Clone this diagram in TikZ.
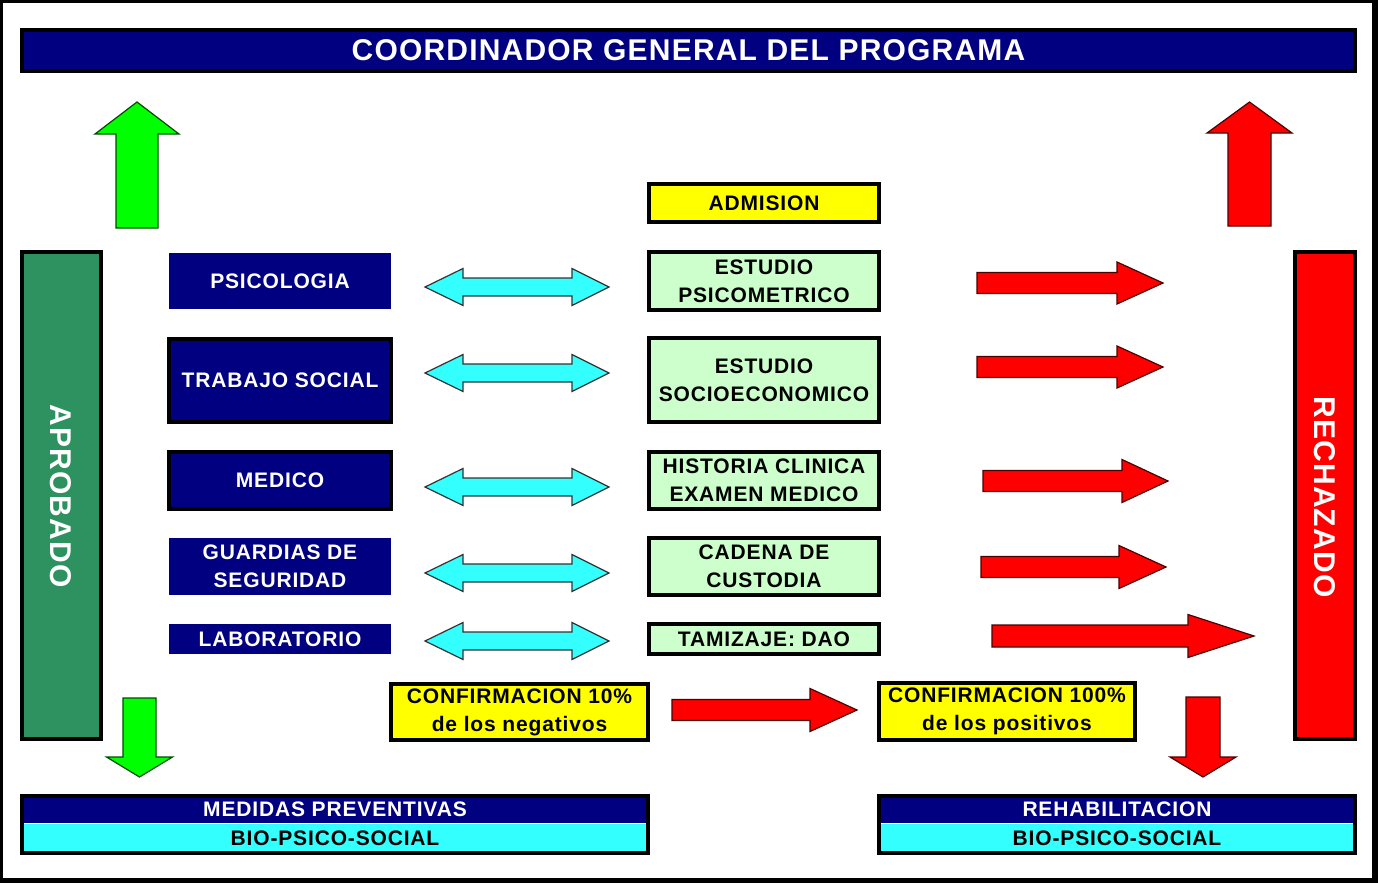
\documentclass[tikz,border=0pt]{standalone}
\usepackage{fontspec}
\setmainfont[LetterSpace=4]{Liberation Sans}
\definecolor{navyc}{RGB}{0,0,128}
\definecolor{seag}{RGB}{46,145,96}
\definecolor{redc}{RGB}{255,0,0}
\definecolor{greenc}{RGB}{0,255,0}
\definecolor{cyanc}{RGB}{51,255,255}
\definecolor{yellowc}{RGB}{255,255,0}
\definecolor{lgreen}{RGB}{204,255,204}
% horizontal block arrow: x-start, x-tip, y-centre, x-headbase, half head, half shaft, style
\newcommand\harw[7]{\draw[#7] (#1,#3-#6) -- (#4,#3-#6) -- (#4,#3-#5) -- (#2,#3) -- (#4,#3+#5) -- (#4,#3+#6) -- (#1,#3+#6) -- cycle;}
% double horizontal block arrow: x-left tip, x-right tip, y, left headbase, right headbase, half head, half shaft, style
\newcommand\dharw[8]{\draw[#8] (#1,#3) -- (#4,#3-#6) -- (#4,#3-#7) -- (#5,#3-#7) -- (#5,#3-#6) -- (#2,#3) -- (#5,#3+#6) -- (#5,#3+#7) -- (#4,#3+#7) -- (#4,#3+#6) -- cycle;}
% vertical block arrow: x-centre, y-tip, y-headbase, y-tail, half head, half shaft, style
\newcommand\varw[7]{\draw[#7] (#1,#2) -- (#1+#5,#3) -- (#1+#6,#3) -- (#1+#6,#4) -- (#1-#6,#4) -- (#1-#6,#3) -- (#1-#5,#3) -- cycle;}
\begin{document}
\begin{tikzpicture}[x=1pt,y=-1pt,
  bfont/.style={font=\fontsize{21}{28}\selectfont\bfseries},
  bordered/.style={draw=black, line width=4pt, inner sep=0pt, align=center, bfont},
  plain/.style={inner sep=0pt, align=center, bfont},
  navybox/.style={fill=navyc, text=white},
  greenbox/.style={fill=lgreen, text=black},
  yellowbox/.style={fill=yellowc, text=black},
  redarrow/.style={fill=redc, draw=black!70!red, line width=1.2pt, line join=miter},
  greenarrow/.style={fill=greenc, draw=black!70!green, line width=1.2pt, line join=miter},
  cyanarrow/.style={fill=cyanc, draw=black!80, line width=1.2pt, line join=miter}
]
\useasboundingbox (0,0) rectangle (1378,883);
\fill[black] (0,0) rectangle (1378,883);
\fill[white] (3,3) rectangle (1372,878);

% title
\node[bordered, navybox, minimum width=1333pt, minimum height=41pt,
      font=\fontsize{30}{36}\selectfont\bfseries] (title) at (688.5,50.5) {COORDINADOR GENERAL DEL PROGRAMA};

% side bars
\node[bordered, fill=seag, minimum width=79pt, minimum height=487pt] (aprob) at (61.5,495.5) {};
\node[rotate=-90, text=white, inner sep=0pt, font=\fontsize{30}{36}\selectfont\bfseries] (aprobt) at (61,496) {APROBADO};
\node[bordered, fill=redc, minimum width=60pt, minimum height=487pt] (rech) at (1325,495.5) {};
\node[rotate=-90, text=white, inner sep=0pt, font=\fontsize{30}{36}\selectfont\bfseries] (recht) at (1324.5,497) {RECHAZADO};

% left column
\node[plain, navybox, text=white, minimum width=222pt, minimum height=56pt] (psi) at (280,281) {PSICOLOGIA};
\node[bordered, navybox, minimum width=222pt, minimum height=83pt] (ts) at (280,380.5) {TRABAJO SOCIAL};
\node[bordered, navybox, minimum width=222pt, minimum height=57pt] (med) at (280,480.5) {MEDICO};
\node[plain, navybox, minimum width=222pt, minimum height=57pt] (gua) at (280,566.5) {GUARDIAS DE\\SEGURIDAD};
\node[plain, navybox, minimum width=222pt, minimum height=30pt] (lab) at (280,639) {LABORATORIO};

% centre column
\node[bordered, yellowbox, minimum width=230pt, minimum height=38pt] (adm) at (764,203) {ADMISION};
\node[bordered, greenbox, minimum width=230pt, minimum height=58pt] (epsi) at (764,281) {ESTUDIO\\PSICOMETRICO};
\node[bordered, greenbox, minimum width=230pt, minimum height=84pt] (esoc) at (764,380) {ESTUDIO\\SOCIOECONOMICO};
\node[bordered, greenbox, minimum width=230pt, minimum height=57pt] (hist) at (764,480.5) {HISTORIA CLINICA\\EXAMEN MEDICO};
\node[bordered, greenbox, minimum width=230pt, minimum height=57pt] (cad) at (764,566.5) {CADENA DE\\CUSTODIA};
\node[bordered, greenbox, minimum width=230pt, minimum height=30pt] (tam) at (764,639) {TAMIZAJE: DAO};

% confirmations
\node[bordered, yellowbox, minimum width=257pt, minimum height=56pt] (c10) at (519.5,712) {CONFIRMACION 10\%\\de los negativos};
\node[bordered, yellowbox, minimum width=256pt, minimum height=57pt] (c100) at (1007,711.5) {CONFIRMACION 100\%\\de los positivos};

% bottom bars
\node[plain, navybox, minimum width=626pt, minimum height=27pt, anchor=north] (prev) at (335,796) {MEDIDAS PREVENTIVAS};
\node[plain, fill=cyanc, text=black, minimum width=626pt, minimum height=29pt, anchor=north] (prevb) at (prev.south) {BIO-PSICO-SOCIAL};
\draw[line width=4pt] (prev.north west) rectangle (prevb.south east);
\node[plain, navybox, minimum width=476pt, minimum height=27pt, anchor=north] (reh) at (1117,796) {REHABILITACION};
\node[plain, fill=cyanc, text=black, minimum width=476pt, minimum height=29pt, anchor=north] (rehb) at (reh.south) {BIO-PSICO-SOCIAL};
\draw[line width=4pt] (reh.north west) rectangle (rehb.south east);

% vertical arrows
\varw{137}{102}{134}{228}{42}{21}{greenarrow}
\varw{1249.5}{102}{133}{226}{42.5}{21.5}{redarrow}
\varw{139.5}{777}{757}{698}{33}{16.5}{greenarrow}
\varw{1203}{777}{757}{697}{33}{17}{redarrow}

% cyan double arrows
\dharw{425}{609}{287}{463}{572}{18.5}{9}{cyanarrow}
\dharw{425}{609}{373}{463}{572}{18.5}{9}{cyanarrow}
\dharw{425}{609}{487}{463}{572}{18.5}{9}{cyanarrow}
\dharw{425}{609}{573}{463}{572}{18.5}{9}{cyanarrow}
\dharw{425}{609}{641}{463}{572}{18.5}{9}{cyanarrow}

% red arrows to RECHAZADO
\harw{977}{1163}{283}{1117}{21}{10.5}{redarrow}
\harw{977}{1163}{367}{1117}{21}{10.5}{redarrow}
\harw{983}{1168}{481}{1122}{21.5}{10.5}{redarrow}
\harw{981}{1166}{567}{1119}{21.5}{10.5}{redarrow}
\harw{992}{1254}{636}{1188}{21.5}{11}{redarrow}
\harw{672}{857}{710}{810}{21.5}{10.5}{redarrow}
\end{tikzpicture}
\end{document}
